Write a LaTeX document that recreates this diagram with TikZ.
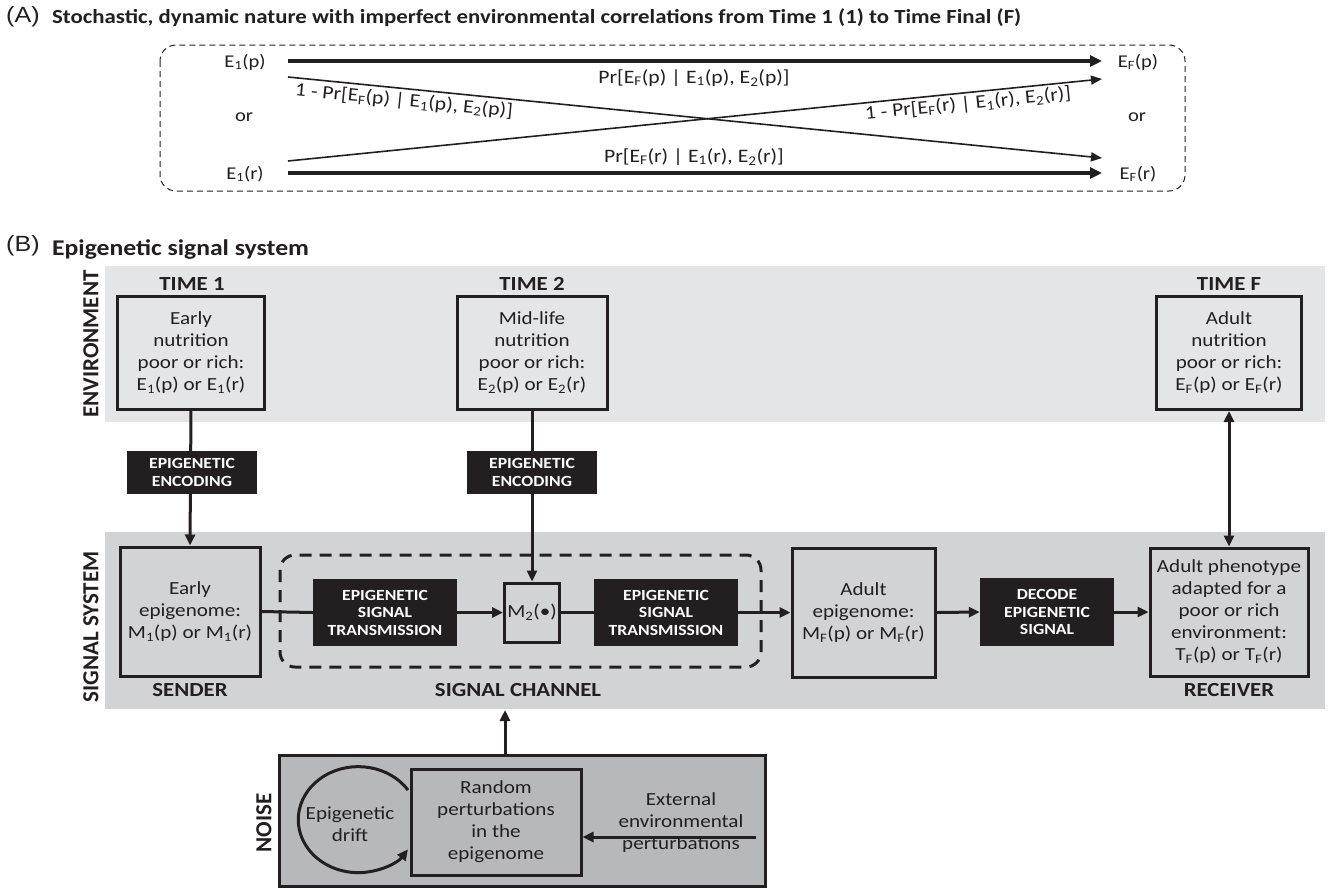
\documentclass[tikz,border=0pt]{standalone}
\usepackage{fontspec}
\setmainfont{Carlito}[FakeStretch=1.14]
\newfontfamily\plainfont{Carlito}
\newfontfamily\lsans{Liberation Sans}[FakeStretch=1.14]
\usetikzlibrary{arrows.meta}
\newcommand\sbs[1]{\textsubscript{#1}}
\definecolor{envgray}{HTML}{E4E5E6}
\definecolor{siggray}{HTML}{D2D3D5}
\definecolor{noisegray}{HTML}{B7B8BB}
\definecolor{blk}{HTML}{231F20}
\begin{document}
\begin{tikzpicture}[x=1pt,y=-1pt,
  txt/.style={font=\fontsize{18.5}{22}\selectfont, align=center, inner sep=0pt, text=blk},
  atxt/.style={font=\fontsize{18}{22}\selectfont, align=center, inner sep=0pt, text=blk},
  ltxt/.style={font=\fontsize{19}{22}\selectfont, align=center, inner sep=0pt, text=blk},
  hdr/.style={font=\bfseries\fontsize{20}{22}\selectfont, inner sep=0pt, text=blk},
  side/.style={font=\plainfont\bfseries\fontsize{23}{24}\selectfont, inner sep=0pt, rotate=90, text=blk},
  panel/.style={font=\lsans\fontsize{22}{24}\selectfont, inner sep=0pt, anchor=west, text=blk},
  ttla/.style={font=\bfseries\fontsize{20}{22}\selectfont, inner sep=0pt, anchor=west, text=blk},
  ttlb/.style={font=\bfseries\fontsize{22.5}{24}\selectfont, inner sep=0pt, anchor=west, text=blk},
  sbox/.style={draw=blk, line width=3pt, align=center, inner sep=0pt, text=blk, font=\fontsize{18.5}{22}\selectfont},
  blkbox/.style={fill=blk, text=white, font=\bfseries\fontsize{15.5}{17.5}\selectfont, align=center, inner sep=0pt},
  arr/.style={draw=blk, line width=3pt, -{Triangle[length=11pt,width=10pt]}},
  darr/.style={draw=blk, line width=3pt, {Triangle[length=11pt,width=10pt]}-{Triangle[length=11pt,width=10pt]}},
  plain/.style={draw=blk, line width=3pt},
  thickarr/.style={draw=blk, line width=4.5pt, -{Triangle[length=12pt,width=11pt]}},
  thinarr/.style={draw=blk, line width=1.6pt, -{Triangle[length=11pt,width=9pt]}}
]
\useasboundingbox (0,0) rectangle (1330,889);

% ---------------- Panel A ----------------
\node[panel] (pa) at (6,17) {(A)};
\node[ttla] (ta) at (52,18) {Stochastic, dynamic nature with imperfect environmental correlations from Time 1 (1) to Time Final (F)};
\draw[blk, line width=1pt, dash pattern=on 6pt off 4pt, rounded corners=16pt] (160,45) rectangle (1185,191);

\node[atxt] (e1p) at (245,62) {E\sbs{1}(p)};
\node[atxt] (e1r) at (245,174) {E\sbs{1}(r)};
\node[atxt] (orl) at (244,117) {or};
\node[atxt] (efp) at (1138,62) {E\sbs{F}(p)};
\node[atxt] (efr) at (1138,174) {E\sbs{F}(r)};
\node[atxt] (orr) at (1137,117) {or};

\coordinate (p1s) at (288,61);
\coordinate (p1e) at (1102,61);
\coordinate (r1s) at (288,173);
\coordinate (r1e) at (1102,173);
\coordinate (pds) at (288,77);
\coordinate (pde) at (1102,158);
\coordinate (rds) at (288,161);
\coordinate (rde) at (1102,79);
\draw[thickarr] (p1s) -- (p1e);
\draw[thickarr] (r1s) -- (r1e);
\draw[thinarr] (pds) -- (pde);
\draw[thinarr] (rds) -- (rde);

\node[ltxt] (lpp) at (694,78) {Pr[E\sbs{F}(p) | E\sbs{1}(p), E\sbs{2}(p)]};
\node[ltxt] (lrr) at (694,157) {Pr[E\sbs{F}(r) | E\sbs{1}(r), E\sbs{2}(r)]};
\node[ltxt, rotate=-5.7] (lpr) at (404,101) {1 - Pr[E\sbs{F}(p) | E\sbs{1}(p), E\sbs{2}(p)]};
\node[ltxt, rotate=5.7] (lrp) at (968,104) {1 - Pr[E\sbs{F}(r) | E\sbs{1}(r), E\sbs{2}(r)]};

% ---------------- Panel B ----------------
\node[panel] (pb) at (6,246) {(B)};
\node[ttlb] (tb) at (52,249) {Epigenetic signal system};

\fill[envgray] (105,266) rectangle (1325,422);
\fill[siggray] (105,532) rectangle (1325,709);

\node[side] (envlab) at (91,344) {ENVIRONMENT};
\node[side] (siglab) at (91,627) {SIGNAL SYSTEM};

\node[hdr] (t1) at (192,284) {TIME 1};
\node[hdr] (t2) at (532,284) {TIME 2};
\node[hdr] (tf) at (1229,284) {TIME F};

\node[sbox, minimum width=147pt, minimum height=113pt] (e1) at (191,352.5)
  {Early\\nutrition\\poor or rich:\\E\sbs{1}(p) or E\sbs{1}(r)};
\node[sbox, minimum width=150pt, minimum height=113pt] (e2) at (532,352.5)
  {Mid-life\\nutrition\\poor or rich:\\E\sbs{2}(p) or E\sbs{2}(r)};
\node[sbox, minimum width=145pt, minimum height=113pt] (ef) at (1229,353)
  {Adult\\nutrition\\poor or rich:\\E\sbs{F}(p) or E\sbs{F}(r)};

\node[sbox, minimum width=140pt, minimum height=129pt] (sender) at (190,611.5)
  {Early\\epigenome:\\M\sbs{1}(p) or M\sbs{1}(r)};
\node[sbox, minimum width=55pt, minimum height=59pt] (m2) at (532,612.5) {M\sbs{2}(\textbullet)};
\node[sbox, minimum width=143pt, minimum height=129pt] (adult) at (863.5,612.5)
  {Adult\\epigenome:\\M\sbs{F}(p) or M\sbs{F}(r)};
\node[sbox, minimum width=158pt, minimum height=128pt] (recv) at (1229,612)
  {Adult phenotype\\adapted for a\\poor or rich\\environment:\\T\sbs{F}(p) or T\sbs{F}(r)};

\draw[blk, line width=3pt, dash pattern=on 12pt off 8pt, rounded corners=15pt] (280,555) rectangle (761,667);

% connectors
\draw[arr] (e1.south) -- (sender.north);
\draw[arr] (e2.south) -- (m2.north);
\draw[darr] (ef.south) -- (recv.north);

\node[blkbox, minimum width=130pt, minimum height=43pt] (enc1) at (192,472.5) {EPIGENETIC\\ENCODING};
\node[blkbox, minimum width=130pt, minimum height=43pt] (enc2) at (532,472.5) {EPIGENETIC\\ENCODING};

\node[blkbox, minimum width=144pt, minimum height=67pt] (tr1) at (385,612.5) {EPIGENETIC\\SIGNAL\\TRANSMISSION};
\node[blkbox, minimum width=144pt, minimum height=67pt] (tr2) at (666,612.5) {EPIGENETIC\\SIGNAL\\TRANSMISSION};
\node[blkbox, minimum width=134pt, minimum height=68pt] (dec) at (1047,612) {DECODE\\EPIGENETIC\\SIGNAL};

\draw[plain] (sender.east) -- (tr1.west);
\draw[arr] (tr1.east) -- (m2.west);
\draw[plain] (m2.east) -- (tr2.west);
\draw[arr] (tr2.east) -- (adult.west);
\draw[arr] (adult.east) -- (dec.west);
\draw[arr] (dec.east) -- (recv.west);

\node[hdr] (sendl) at (190,690) {SENDER};
\node[hdr] (chanl) at (518,690) {SIGNAL CHANNEL};
\node[hdr] (recvl) at (1229,690) {RECEIVER};

% ---------------- Noise ----------------
\node[draw=blk, line width=3pt, fill=noisegray, minimum width=486pt, minimum height=131pt, inner sep=0pt] (noise) at (522,821) {};
\node[side] (noisel) at (264,823) {NOISE};
\coordinate (sigbot) at (505,710);
\draw[arr] (noise.north -| sigbot) -- (sigbot);

\node[sbox, minimum width=170pt, minimum height=106pt] (rand) at (496,822)
  {Random\\perturbations\\in the\\epigenome};
\node[txt] (drift) at (350,824) {Epigenetic\\drift};
\coordinate (driftstart) at (408,790);
\draw[arr] (driftstart) arc[start angle=34, end angle=326, x radius=60pt, y radius=53pt];

\node[txt] (ext) at (681,823) {External\\environmental\\perturbations};
\coordinate (extstart) at (756,837);
\draw[arr] (extstart) -- (extstart -| rand.east);
\end{tikzpicture}
\end{document}
